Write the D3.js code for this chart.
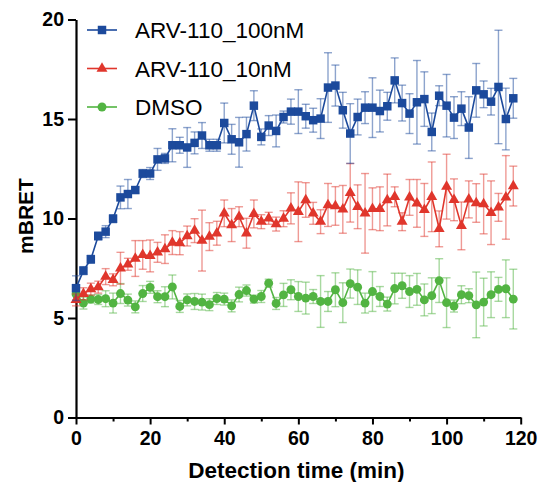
<!DOCTYPE html>
<html>
<head>
<meta charset="utf-8">
<script src="https://cdn.jsdelivr.net/npm/d3@7"></script>
<style>
  body { margin: 0; background: #fff; }
  text { font-family: "Liberation Sans", Arial, sans-serif; }
</style>
</head>
<body>
<div id="chart"></div>
<script>
// detection times (min)
const times = [0, 2, 4, 6, 8, 10, 12, 14, 16, 18, 20, 22, 24, 26, 28, 30, 32, 34, 36, 38,
  40, 42, 44, 46, 48, 50, 52, 54, 56, 58, 60, 62, 64, 66, 68, 70, 72, 74, 76, 78,
  80, 82, 84, 86, 88, 90, 92, 94, 96, 98, 100, 102, 104, 106, 108, 110, 112, 114, 116, 118];

const arv100Mean = [6.5, 7.38, 7.95, 9.12, 9.34, 9.99, 11.06, 11.23, 11.43, 12.26, 12.26, 12.97, 13.02, 13.68, 13.68, 13.57, 13.8, 14.17, 13.68, 13.68,
  14.8, 13.98, 13.83, 14.24, 15.67, 14.1, 14.67, 14.4, 15.1, 15.37, 15.37, 15.14, 14.94, 15.02, 16.58, 16.68, 15.44, 14.27, 15.1, 15.57,
  15.57, 15.4, 15.64, 16.94, 15.8, 15.27, 15.84, 16.0, 14.35, 16.17, 15.67, 15.07, 15.52, 14.57, 16.44, 16.24, 15.87, 16.61, 15.0, 16.04];
const arv100Err = [0.62, 0.2, 0.2, 0.2, 0.3, 0.2, 0.57, 0.73, 0.15, 0.2, 0.3, 0.55, 0.25, 0.83, 0.4, 1.0, 0.55, 0.65, 0.3, 0.3,
  1.0, 0.75, 1.25, 0.85, 0.75, 0.4, 0.5, 0.8, 0.3, 0.63, 1.1, 0.6, 0.6, 1.0, 1.75, 1.03, 0.9, 1.5, 0.9, 0.8,
  1.5, 1.05, 0.7, 1.13, 0.9, 1.0, 2.1, 1.37, 0.95, 0.5, 1.57, 1.05, 0.85, 1.55, 1.35, 0.67, 0.67, 2.85, 1.55, 1.0];

const arv10Mean = [5.91, 6.22, 6.45, 6.55, 7.08, 6.92, 7.5, 7.7, 7.99, 8.17, 8.12, 8.3, 8.46, 8.79, 8.76, 9.12, 9.39, 8.89, 9.09, 9.26,
  10.26, 9.67, 10.09, 9.26, 10.23, 9.84, 10.01, 9.72, 9.99, 10.51, 10.34, 10.93, 10.26, 9.84, 10.68, 10.63, 10.46, 11.29, 10.59, 10.26,
  10.49, 10.49, 10.93, 11.09, 9.84, 11.06, 10.76, 10.43, 11.09, 9.48, 11.6, 10.94, 9.63, 10.96, 10.78, 10.73, 10.29, 10.56, 11.06, 11.63];
const arv10Err = [0.3, 0.3, 0.3, 0.3, 0.4, 0.3, 0.8, 0.3, 0.9, 0.72, 0.8, 0.5, 0.72, 0.6, 0.58, 0.5, 0.6, 1.53, 0.7, 0.6,
  0.67, 0.83, 0.5, 0.75, 0.7, 0.35, 0.3, 0.35, 0.4, 0.78, 1.5, 0.87, 0.55, 0.6, 1.08, 0.97, 1.2, 1.47, 1.1, 2.0,
  1.05, 1.1, 1.3, 0.5, 0.45, 0.9, 1.2, 1.33, 1.75, 0.9, 1.63, 1.05, 1.2, 0.93, 0.97, 1.5, 1.6, 0.7, 2.1, 1.0];

const dmsoMean = [6.2, 5.75, 5.95, 5.93, 5.97, 5.75, 6.23, 5.9, 5.56, 6.23, 6.54, 6.07, 6.07, 6.56, 5.58, 5.91, 5.83, 5.8, 5.67, 5.98,
  5.95, 5.61, 6.18, 6.38, 5.95, 6.08, 6.75, 5.73, 6.16, 6.42, 6.08, 6.0, 6.08, 5.83, 5.83, 6.42, 5.77, 6.73, 6.55, 5.75,
  6.33, 6.08, 5.7, 6.48, 6.62, 6.33, 6.44, 5.91, 6.12, 6.88, 5.77, 5.6, 6.17, 6.12, 5.66, 5.8, 6.17, 6.44, 6.47, 5.95];
const dmsoErr = [0.3, 0.3, 0.2, 0.25, 0.4, 0.5, 0.5, 0.3, 0.3, 0.4, 0.3, 0.3, 0.5, 0.6, 0.3, 0.3, 0.4, 0.4, 0.3, 0.3,
  0.3, 0.3, 0.37, 0.28, 0.2, 0.3, 0.2, 0.3, 0.58, 0.5, 0.75, 0.8, 0.35, 1.3, 0.5, 0.85, 1.0, 0.73, 0.87, 0.5,
  1.0, 0.5, 0.35, 0.77, 0.63, 0.8, 0.8, 0.8, 0.9, 1.1, 1.25, 0.3, 0.45, 0.35, 1.65, 1.2, 1.15, 0.6, 1.45, 1.5];

const seriesNames = ["ARV-110_100nM", "ARV-110_10nM", "DMSO"];
const xTicks = [0, 20, 40, 60, 80, 100, 120];
const xMinorTicks = [10, 30, 50, 70, 90, 110];
const yTicks = [0, 5, 10, 15, 20];

// chart specs
var width = 554,
    height = 482;

var series = [
  { name: seriesNames[2], mean: dmsoMean, err: dmsoErr, color: "#52b442", shape: d3.symbolCircle, size: 62 },
  { name: seriesNames[1], mean: arv10Mean, err: arv10Err, color: "#e0362c", shape: d3.symbolTriangle, size: 52 },
  { name: seriesNames[0], mean: arv100Mean, err: arv100Err, color: "#1c4a9c", shape: d3.symbolSquare, size: 72 }
];

var x = d3.scaleLinear().domain([0, 120]).range([76, 520.7]);
var y = d3.scaleLinear().domain([0, 20]).range([417.5, 19.5]);

var svg = d3.select('#chart').append('svg')
  .attr('width', width)
  .attr('height', height);

// axes
svg.append('g')
  .attr('transform', `translate(0,${y(0)})`)
  .call(d3.axisBottom(x).tickValues(xTicks).tickSize(7).tickSizeOuter(0).tickPadding(7));
svg.append('g')
  .attr('transform', `translate(0,${y(0)})`)
  .call(d3.axisBottom(x).tickValues(xMinorTicks).tickSize(4).tickSizeOuter(0).tickFormat(''))
  .select('.domain').remove();
svg.append('g')
  .attr('transform', `translate(${x(0)},0)`)
  .call(d3.axisLeft(y).tickValues(yTicks).tickSize(8).tickSizeOuter(0).tickPadding(4));

svg.selectAll('.domain').attr('stroke', '#000').attr('stroke-width', 2.2);
svg.selectAll('.tick line').attr('stroke', '#000').attr('stroke-width', 2);
svg.selectAll('.tick text')
  .attr('fill', '#000')
  .style('font-size', '19.5px')
  .style('font-weight', 'bold');

svg.append('text')
  .attr('x', (x(0) + x(120)) / 2 - 2)
  .attr('y', 478)
  .attr('text-anchor', 'middle')
  .style('font-size', '22.5px')
  .style('font-weight', 'bold')
  .text('Detection time (min)');

svg.append('text')
  .attr('transform', 'translate(33,216) rotate(-90)')
  .attr('text-anchor', 'middle')
  .style('font-size', '21px')
  .style('font-weight', 'bold')
  .text('mBRET');

// series
series.forEach(function(s) {
  var rows = times.map(function(t, i) { return { t: t, v: s.mean[i], e: s.err[i] }; });
  var g = svg.append('g');

  var eb = g.append('g')
    .attr('stroke', s.color)
    .attr('stroke-opacity', 0.5)
    .attr('stroke-width', 1.4);
  eb.selectAll('line.bar').data(rows).enter().append('line')
    .attr('x1', function(d) { return x(d.t); })
    .attr('x2', function(d) { return x(d.t); })
    .attr('y1', function(d) { return y(d.v + d.e); })
    .attr('y2', function(d) { return y(d.v - d.e); });
  eb.selectAll('line.top').data(rows).enter().append('line')
    .attr('x1', function(d) { return x(d.t) - 4; })
    .attr('x2', function(d) { return x(d.t) + 4; })
    .attr('y1', function(d) { return y(d.v + d.e); })
    .attr('y2', function(d) { return y(d.v + d.e); });
  eb.selectAll('line.bot').data(rows).enter().append('line')
    .attr('x1', function(d) { return x(d.t) - 4; })
    .attr('x2', function(d) { return x(d.t) + 4; })
    .attr('y1', function(d) { return y(d.v - d.e); })
    .attr('y2', function(d) { return y(d.v - d.e); });

  g.append('path')
    .datum(rows)
    .attr('fill', 'none')
    .attr('stroke', s.color)
    .attr('stroke-width', 1.6)
    .attr('d', d3.line().x(function(d) { return x(d.t); }).y(function(d) { return y(d.v); }));

  g.selectAll('path.pt').data(rows).enter().append('path')
    .attr('transform', function(d) { return `translate(${x(d.t)},${y(d.v)})`; })
    .attr('d', d3.symbol().type(s.shape).size(s.size))
    .attr('fill', s.color);
});

// legend
var legend = svg.append('g');
series.slice().reverse().forEach(function(s, i) {
  var ly = 30 + i * 38.5;
  legend.append('line')
    .attr('x1', 87).attr('x2', 117)
    .attr('y1', ly).attr('y2', ly)
    .attr('stroke', s.color).attr('stroke-width', 1.6);
  legend.append('path')
    .attr('transform', `translate(102,${ly})`)
    .attr('d', d3.symbol().type(s.shape).size(s.size))
    .attr('fill', s.color);
  legend.append('text')
    .attr('x', 135).attr('y', ly + 8)
    .style('font-size', '22.5px')
    .text(s.name);
});
</script>
</body>
</html>
